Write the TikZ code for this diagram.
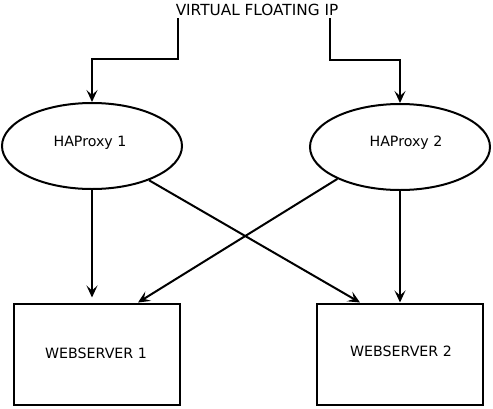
\documentclass[tikz,border=0pt]{standalone}
\usepackage{fontspec}
\setmainfont{DejaVu Sans}
\usetikzlibrary{arrows.meta,calc,shapes.geometric}
\begin{document}
\begin{tikzpicture}[x=1pt,y=-1pt,
  line width=2pt,
  arr/.style={-{Stealth[length=12pt,width=11pt,inset=5pt]}},
  proxy/.style={draw,ellipse,minimum width=180pt,minimum height=86pt,inner sep=0pt,font=\fontsize{14.2}{16}\selectfont},
  server/.style={draw,rectangle,minimum width=166pt,minimum height=101pt,inner sep=0pt,font=\fontsize{14.2}{16}\selectfont},
  title/.style={inner sep=0pt,font=\fontsize{15.3}{17}\selectfont}]
\useasboundingbox (0,0) rectangle (493,408);
\node[title] (t) at (257,10) {VIRTUAL FLOATING IP};
\node[proxy] (h1) at (92,146) {};
\node[proxy] (h2) at (400,147) {};
\node[font=\fontsize{14.2}{16}\selectfont] (h1t) at (90,143) {HAProxy 1};
\node[font=\fontsize{14.2}{16}\selectfont] (h2t) at (406,143) {HAProxy 2};
\node[server] (w1) at (97,354) {};
\node[server] (w2) at (400,354) {};
\node[font=\fontsize{14.2}{16}\selectfont] (w1t) at (96,353) {WEBSERVER 1};
\node[font=\fontsize{14.2}{16}\selectfont] (w2t) at (401,351) {WEBSERVER 2};
\coordinate (tl) at (178,18);
\coordinate (tr) at (330,18);
\draw[arr] (tl) -- (178,59) -- (92,59) -- (h1.north);
\draw[arr] (tr) -- (330,60) -- (400,60) -- (h2.north);
\draw[arr,shorten >=5pt] (h1.south) -- (h1.south |- w1.north);
\draw[arr] (h2.south) -- (h2.south |- w2.north);
\draw[arr] (h1.-31) -- ($(w2.north west)+(44,0)$);
\draw[arr] (h2.-153) -- ($(w1.north west)+(125,0)$);
\end{tikzpicture}
\end{document}
